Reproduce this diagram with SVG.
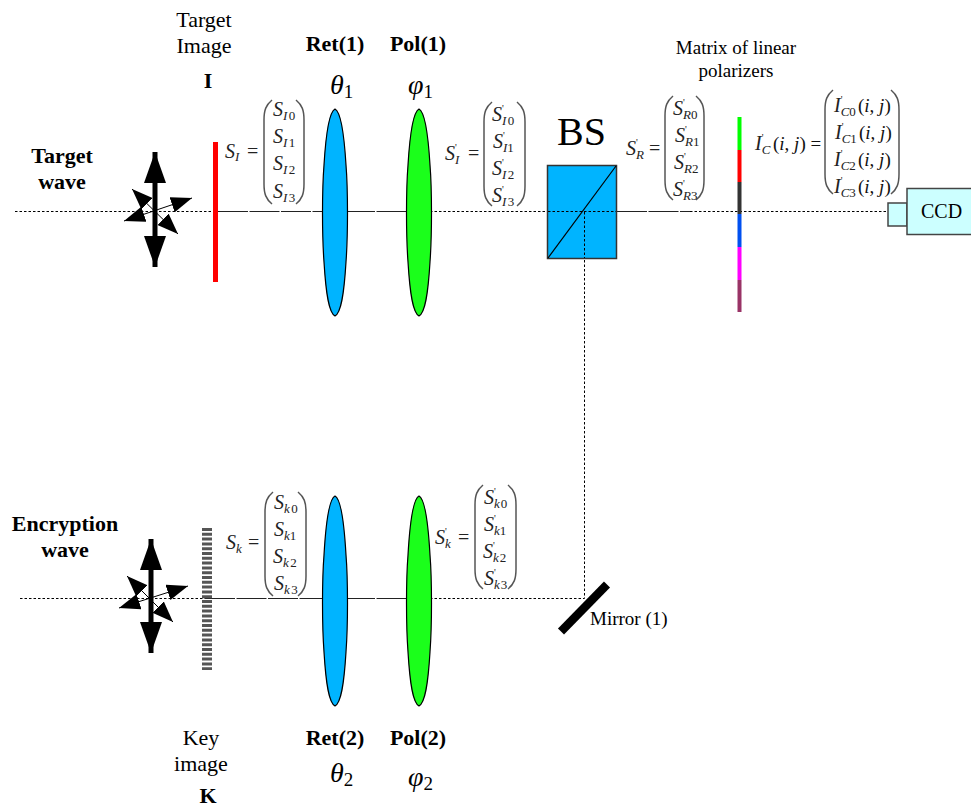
<svg xmlns="http://www.w3.org/2000/svg" width="971" height="812" viewBox="0 0 971 812">
<style>
text{font-family:"Liberation Serif","Times New Roman",serif;fill:#000}
.l{font-size:22px;text-anchor:middle}
.b{font-size:22px;font-weight:bold;text-anchor:middle}
.m{font-size:19px;text-anchor:middle}
.s{font-size:20px;font-style:italic;fill:#222}
.u{font-size:13px;font-style:italic;fill:#222}
.n{font-size:13px;font-style:normal;fill:#222}
.r{font-size:10px;font-style:normal;fill:#222}
.t{font-size:20px;fill:#222}
.g{font-size:28px;font-style:italic}
.q{font-size:19px;fill:#111}
.p{fill:none;stroke:#555;stroke-width:1.500}
.d{fill:none;stroke:#000;stroke-width:1;stroke-dasharray:2.500 2}
.e{fill:none;stroke:#222;stroke-width:1;stroke-dasharray:30 1.500}
.bl{fill:#00b4ff;stroke:#000;stroke-width:1.200}
.gr{fill:#1bff1b;stroke:#000;stroke-width:1.200}
.ah{fill:#000;stroke:none}
.big{stroke:#000;stroke-width:5}
.thin{stroke:#000;stroke-width:1}
.cy{fill:#ccffff;stroke:#444;stroke-width:1.500}
</style>
<defs>
<marker id="bigh" markerUnits="userSpaceOnUse" markerWidth="32" markerHeight="22" refX="31" refY="11" orient="auto-start-reverse"><path class="ah" d="M0 0L31 11L0 22Z"/></marker>
<marker id="smh" markerUnits="userSpaceOnUse" markerWidth="22" markerHeight="16" refX="21" refY="8" orient="auto-start-reverse"><path class="ah" d="M0 0L21 8L0 16Z"/></marker>
<path id="lparen" class="p" d="M9 0C3 5 1 10 1 20V84C1 94 3 99 9 104"/>
<path id="rparen" class="p" d="M1 0C7 5 9 10 9 20V84C9 94 7 99 1 104"/>
</defs>

<g id="connectors">
<path class="d" d="M15 211.500H218M430 211.500H548M690 211.500H888"/>
<path class="e" d="M218 211.500H325M345 211.500H410M617 211.500H690"/>
<path class="d" d="M20 598.500H205M430 598.500H584.500V211"/>
<path class="e" d="M205 598.500H325M345 598.500H410"/>
</g>

<g id="label-target-wave"><text class="b" x="62" y="163">Target</text><text class="b" x="62" y="189">wave</text></g>
<g id="label-encryption-wave"><text class="b" x="65" y="531">Encryption</text><text class="b" x="65" y="557">wave</text></g>

<g id="polarization-top">
<line class="big" x1="155" y1="152" x2="155" y2="267" marker-start="url(#bigh)" marker-end="url(#bigh)"/>
<line class="thin" x1="132" y1="189" x2="178" y2="234" marker-start="url(#smh)" marker-end="url(#smh)"/>
<line class="thin" x1="192" y1="198" x2="124" y2="221" marker-start="url(#smh)" marker-end="url(#smh)"/>
</g>
<g id="polarization-bottom">
<line class="big" x1="151" y1="539" x2="151" y2="653" marker-start="url(#bigh)" marker-end="url(#bigh)"/>
<line class="thin" x1="127" y1="576" x2="173" y2="622" marker-start="url(#smh)" marker-end="url(#smh)"/>
<line class="thin" x1="188" y1="586" x2="119" y2="608" marker-start="url(#smh)" marker-end="url(#smh)"/>
</g>

<g id="target-image">
<text class="l" x="204" y="27">Target</text><text class="l" x="204" y="53">Image</text><text class="b" x="208" y="88">I</text>
<rect x="213" y="142" width="5" height="140" fill="#ff0000"/>
</g>
<g id="key-image">
<text class="l" x="201" y="745">Key</text><text class="l" x="201" y="771">image</text><text class="b" x="208" y="803">K</text>
<line x1="207" y1="528" x2="207" y2="670" stroke="#555" stroke-width="10" stroke-dasharray="3 1.800"/>
</g>

<g id="ret1">
<text class="b" x="335" y="51">Ret(1)</text>
<text class="g" x="330" y="94">θ<tspan font-size="19" font-style="normal" dy="4">1</tspan></text>
<path class="bl" d="M335 109C341 112 344 132 346 165C348 190 348 235 346 262C344 295 341 313 335 316C329 313 326 295 324 262C322 235 322 190 324 165C326 132 329 112 335 109Z"/>
</g>
<g id="pol1">
<text class="b" x="418" y="51">Pol(1)</text>
<text class="g" x="408" y="94">φ<tspan font-size="19" font-style="normal" dy="4">1</tspan></text>
<path class="gr" d="M419 109C425 112 428 132 430 165C432 190 432 235 430 262C428 295 425 313 419 316C413 313 410 295 408 262C406 235 406 190 408 165C410 132 413 112 419 109Z"/>
</g>
<g id="ret2">
<text class="b" x="335" y="745">Ret(2)</text>
<text class="g" x="330" y="782">θ<tspan font-size="19" font-style="normal" dy="4">2</tspan></text>
<path class="bl" d="M335 496C341 499 344 520 346 555C348 580 348 625 346 652C344 685 341 703 335 706C329 703 326 685 324 652C322 625 322 580 324 555C326 520 329 499 335 496Z"/>
</g>
<g id="pol2">
<text class="b" x="418" y="745">Pol(2)</text>
<text class="g" x="408" y="786">φ<tspan font-size="19" font-style="normal" dy="4">2</tspan></text>
<path class="gr" d="M419 496C425 499 428 520 430 555C432 580 432 625 430 652C428 685 425 703 419 706C413 703 410 685 408 652C406 625 406 580 408 555C410 520 413 499 419 496Z"/>
</g>

<g id="beam-splitter">
<text x="557" y="145" font-size="40">BS</text>
<rect x="547.500" y="165.500" width="69" height="93" fill="#00b4ff" stroke="#333" stroke-width="1.500"/>
<path d="M548 258L616 166" stroke="#000" stroke-width="1.200" fill="none"/>
<path class="d" d="M548 211.500H616M584.500 212V258"/>
</g>

<g id="mirror"><line x1="561" y1="631.500" x2="607" y2="584.500" stroke="#000" stroke-width="8.500"/><text class="m" x="590" y="625" style="text-anchor:start">Mirror (1)</text></g>

<g id="polarizer-matrix">
<text class="m" x="736" y="54">Matrix of linear</text><text class="m" x="736" y="77">polarizers</text>
<rect x="737.500" y="117" width="4" height="33" fill="#00ff00"/>
<rect x="737.500" y="150" width="4" height="32" fill="#ff0000"/>
<rect x="737.500" y="182" width="4" height="32" fill="#333333"/>
<rect x="737.500" y="214" width="4" height="33" fill="#0050f0"/>
<rect x="737.500" y="247" width="4" height="33" fill="#ff00ff"/>
<rect x="737.500" y="280" width="4" height="32" fill="#993366"/>
</g>

<g id="ccd">
<rect class="cy" x="888" y="203" width="19" height="23"/>
<rect class="cy" x="907" y="188.500" width="66" height="46"/>
<text x="921" y="218" font-size="20">CCD</text>
</g>

<g id="eq-si">
<text class="s" x="225" y="158">S<tspan class="u" dy="3">I</tspan></text><text class="t" x="247" y="158">=</text>
<use href="#lparen" x="263" y="100"/><use href="#rparen" x="295" y="100"/>
<text class="s" x="273" y="116">S<tspan class="u" dy="4">I</tspan><tspan class="n" dx="1.500">0</tspan></text>
<text class="s" x="273" y="143">S<tspan class="u" dy="4">I</tspan><tspan class="n" dx="1.500">1</tspan></text>
<text class="s" x="273" y="170">S<tspan class="u" dy="4">I</tspan><tspan class="n" dx="1.500">2</tspan></text>
<text class="s" x="273" y="198">S<tspan class="u" dy="4">I</tspan><tspan class="n" dx="1.500">3</tspan></text>
</g>

<g id="eq-si-prime">
<text class="s" x="445" y="160">S<tspan class="r" dy="-9">'</tspan><tspan class="u" dx="-1.800" dy="13">I</tspan></text><text class="t" x="468" y="160">=</text>
<use href="#lparen" x="483" y="102"/><use href="#rparen" x="516" y="102"/>
<text class="s" x="492" y="121">S<tspan class="r" dy="-9">'</tspan><tspan class="u" dx="-1.800" dy="13">I</tspan><tspan class="n" dx="1.500">0</tspan></text>
<text class="s" x="493" y="148">S<tspan class="r" dy="-9">'</tspan><tspan class="u" dx="-1.800" dy="13">I</tspan><tspan class="n">1</tspan></text>
<text class="s" x="492" y="175">S<tspan class="r" dy="-9">'</tspan><tspan class="u" dx="-1.800" dy="13">I</tspan><tspan class="n" dx="1.500">2</tspan></text>
<text class="s" x="492" y="202">S<tspan class="r" dy="-9">'</tspan><tspan class="u" dx="-1.800" dy="13">I</tspan><tspan class="n" dx="1.500">3</tspan></text>
</g>

<g id="eq-sr">
<text class="s" x="626" y="155">S<tspan class="r" dy="-9">'</tspan><tspan class="u" dx="-1.800" dy="13">R</tspan></text><text class="t" x="649" y="155">=</text>
<use href="#lparen" x="664" y="96"/><use href="#rparen" x="695" y="96"/>
<text class="s" x="673" y="115">S<tspan class="r" dy="-9">'</tspan><tspan class="u" dx="-1.800" dy="13">R</tspan><tspan class="n">0</tspan></text>
<text class="s" x="675" y="142">S<tspan class="r" dy="-9">'</tspan><tspan class="u" dx="-1.800" dy="13">R</tspan><tspan class="n">1</tspan></text>
<text class="s" x="674" y="169">S<tspan class="r" dy="-9">'</tspan><tspan class="u" dx="-1.800" dy="13">R</tspan><tspan class="n">2</tspan></text>
<text class="s" x="673" y="196">S<tspan class="r" dy="-9">'</tspan><tspan class="u" dx="-1.800" dy="13">R</tspan><tspan class="n">3</tspan></text>
</g>

<g id="eq-ic">
<text class="s" x="755" y="150">I<tspan class="r" dy="-9">'</tspan><tspan class="u" dx="-1.800" dy="13">C</tspan></text><text class="q" x="773" y="150">(<tspan font-style="italic">i</tspan>, <tspan font-style="italic">j</tspan>) =</text>
<use href="#lparen" x="824" y="90"/><use href="#rparen" x="890" y="90"/>
<text class="s" x="834" y="112">I<tspan class="r" dy="-9">'</tspan><tspan class="u" dx="-1.800" dy="13">C</tspan><tspan class="n">0</tspan></text><text class="q" x="858" y="112">(<tspan font-style="italic">i</tspan>, <tspan font-style="italic">j</tspan>)</text>
<text class="s" x="835" y="139">I<tspan class="r" dy="-9">'</tspan><tspan class="u" dx="-1.800" dy="13">C</tspan><tspan class="n">1</tspan></text><text class="q" x="859" y="139">(<tspan font-style="italic">i</tspan>, <tspan font-style="italic">j</tspan>)</text>
<text class="s" x="834" y="166">I<tspan class="r" dy="-9">'</tspan><tspan class="u" dx="-1.800" dy="13">C</tspan><tspan class="n">2</tspan></text><text class="q" x="858" y="166">(<tspan font-style="italic">i</tspan>, <tspan font-style="italic">j</tspan>)</text>
<text class="s" x="834" y="193">I<tspan class="r" dy="-9">'</tspan><tspan class="u" dx="-1.800" dy="13">C</tspan><tspan class="n">3</tspan></text><text class="q" x="858" y="193">(<tspan font-style="italic">i</tspan>, <tspan font-style="italic">j</tspan>)</text>
</g>

<g id="eq-sk">
<text class="s" x="226" y="549">S<tspan class="u" dy="4">k</tspan></text><text class="t" x="248" y="549">=</text>
<use href="#lparen" x="264" y="492"/><use href="#rparen" x="297" y="492"/>
<text class="s" x="274" y="509">S<tspan class="u" dy="4">k</tspan><tspan class="n" dx="1.500">0</tspan></text>
<text class="s" x="274" y="536">S<tspan class="u" dy="4">k</tspan><tspan class="n">1</tspan></text>
<text class="s" x="273" y="563">S<tspan class="u" dy="4">k</tspan><tspan class="n" dx="1.500">2</tspan></text>
<text class="s" x="274" y="590">S<tspan class="u" dy="4">k</tspan><tspan class="n" dx="1.500">3</tspan></text>
</g>

<g id="eq-sk-prime">
<text class="s" x="435" y="544">S<tspan class="r" dy="-9">'</tspan><tspan class="u" dx="-1.800" dy="13">k</tspan></text><text class="t" x="458" y="544">=</text>
<use href="#lparen" x="474" y="485"/><use href="#rparen" x="507" y="485"/>
<text class="s" x="484" y="504">S<tspan class="r" dy="-9">'</tspan><tspan class="u" dx="-1.800" dy="13">k</tspan><tspan class="n" dx="1">0</tspan></text>
<text class="s" x="484" y="531">S<tspan class="r" dy="-9">'</tspan><tspan class="u" dx="-1.800" dy="13">k</tspan><tspan class="n">1</tspan></text>
<text class="s" x="483" y="558">S<tspan class="r" dy="-9">'</tspan><tspan class="u" dx="-1.800" dy="13">k</tspan><tspan class="n" dx="1">2</tspan></text>
<text class="s" x="484" y="585">S<tspan class="r" dy="-9">'</tspan><tspan class="u" dx="-1.800" dy="13">k</tspan><tspan class="n" dx="1">3</tspan></text>
</g>
</svg>
